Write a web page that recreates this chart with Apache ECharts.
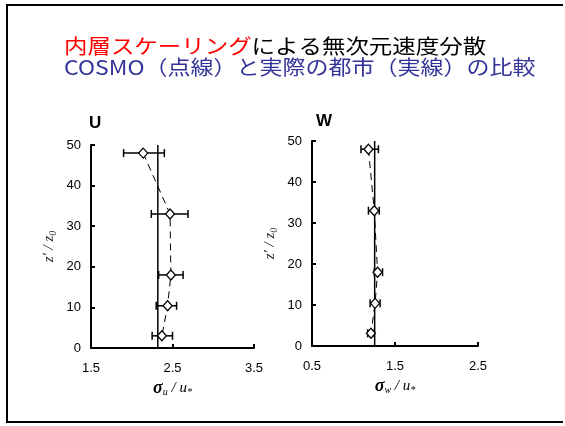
<!DOCTYPE html>
<html>
<head>
<meta charset="utf-8">
<script src="https://cdn.jsdelivr.net/npm/echarts@6/dist/echarts.min.js"></script>
<style>
  html, body { margin: 0; padding: 0; background: #fff; overflow: hidden; }
  #chart { width: 565px; height: 426px; }
</style>
</head>
<body>
<div id="chart"></div>
<script>
// Heights z'/z0 of the measurement levels
const heightsU = [48, 33, 18, 10.4, 3];
const heightsW = [48, 33, 18, 10.4, 3.1];

// COSMO: mean and error range of sigma_u / u*
const cosmoU = [2.14, 2.47, 2.48, 2.44, 2.37];
const cosmoULow = [1.90, 2.24, 2.33, 2.30, 2.25];
const cosmoUHigh = [2.40, 2.69, 2.63, 2.55, 2.50];

// COSMO: mean and error range of sigma_w / u*
const cosmoW = [1.18, 1.25, 1.29, 1.26, 1.21];
const cosmoWLow = [1.09, 1.18, 1.25, 1.20, 1.17];
const cosmoWHigh = [1.30, 1.31, 1.35, 1.32, 1.25];

// Real city (solid line) constant values
const cityU = 2.32;
const cityW = 1.255;
const cityZRange = [0, 50];

// Tick labels
const xTicksU = [1.5, 2.5, 3.5];
const xTicksW = [0.5, 1.5, 2.5];

const chart = echarts.init(document.getElementById('chart'));

const labelFont = 'Liberation Sans, Arial, sans-serif';
const serif = 'Liberation Serif, Times New Roman, serif';
const cjk = 'Noto Sans CJK JP';

function errorBars(xIndex, z, low, high) {
  return {
    type: 'custom',
    xAxisIndex: xIndex,
    yAxisIndex: xIndex,
    z: 2,
    data: z.map((v, i) => [low[i], high[i], v]),
    renderItem: function (params, api) {
      const p0 = api.coord([api.value(0), api.value(2)]);
      const p1 = api.coord([api.value(1), api.value(2)]);
      const h = 4;
      const style = { stroke: '#000', lineWidth: 1.5 };
      return {
        type: 'group',
        children: [
          { type: 'line', shape: { x1: p0[0], y1: p0[1], x2: p1[0], y2: p1[1] }, style: style },
          { type: 'line', shape: { x1: p0[0], y1: p0[1] - h, x2: p0[0], y2: p0[1] + h }, style: style },
          { type: 'line', shape: { x1: p1[0], y1: p1[1] - h, x2: p1[0], y2: p1[1] + h }, style: style }
        ]
      };
    }
  };
}

function cosmoLine(xIndex, vals, z) {
  return {
    type: 'line',
    xAxisIndex: xIndex,
    yAxisIndex: xIndex,
    z: 4,
    data: vals.map((v, i) => [v, z[i]]),
    symbol: 'diamond',
    symbolSize: [9, 10],
    lineStyle: { color: '#000', width: 1, type: [7, 5] },
    itemStyle: { color: '#fff', borderColor: '#000', borderWidth: 1.3 },
    animation: false
  };
}

function cityLine(xIndex, v) {
  return {
    type: 'line',
    xAxisIndex: xIndex,
    yAxisIndex: xIndex,
    z: 3,
    data: cityZRange.map(zz => [v, zz]),
    symbol: 'none',
    lineStyle: { color: '#000', width: 1.5 },
    animation: false
  };
}

function xAxisDef(idx, min, max, ticks, sub) {
  return {
    type: 'value',
    gridIndex: idx,
    min: min,
    max: max,
    axisLine: { lineStyle: { color: '#000', width: 2 } },
    axisTick: { inside: true, length: 4, lineStyle: { color: '#000', width: 2 }, customValues: ticks },
    axisLabel: {
      customValues: ticks,
      margin: 14,
      fontSize: 13,
      color: '#000',
      fontFamily: labelFont,
      formatter: v => v.toFixed(1)
    },
    splitLine: { show: false },
    name: '{s|σ}{sub|' + sub + '}{n| / u}{sub2|*}',
    nameLocation: 'middle',
    nameGap: 31,
    nameTextStyle: {
      rich: {
        s: { fontFamily: serif, fontStyle: 'italic', fontWeight: 'bold', fontSize: 18, color: '#000' },
        sub: { fontFamily: serif, fontStyle: 'italic', fontSize: 10, color: '#000', padding: [8, 0, 0, 0] },
        n: { fontFamily: serif, fontStyle: 'italic', fontSize: 15, color: '#000' },
        sub2: { fontFamily: serif, fontStyle: 'italic', fontSize: 10, color: '#000', padding: [8, 0, 0, 0] }
      }
    }
  };
}

function yAxisDef(idx) {
  return {
    type: 'value',
    gridIndex: idx,
    min: 0,
    max: 50,
    interval: 10,
    axisLine: { lineStyle: { color: '#000', width: 2 } },
    axisTick: { inside: true, length: 4, lineStyle: { color: '#000', width: 2 } },
    axisLabel: { margin: 10, fontSize: 13, color: '#000', fontFamily: labelFont },
    splitLine: { show: false },
    name: "{i|z' / z}{sub|0}",
    nameLocation: 'middle',
    nameRotate: 90,
    nameGap: 33,
    nameTextStyle: {
      rich: {
        i: { fontFamily: serif, fontStyle: 'italic', fontSize: 15, color: '#222' },
        sub: { fontFamily: serif, fontStyle: 'italic', fontSize: 10, color: '#222', padding: [8, 0, 0, 0] }
      }
    }
  };
}

const frameStyle = { stroke: '#000', lineWidth: 2 };

chart.setOption({
  animation: false,
  backgroundColor: '#fff',
  grid: [
    { left: 91, top: 145, width: 163, height: 203 },
    { left: 312, top: 141, width: 166, height: 205 }
  ],
  xAxis: [
    xAxisDef(0, 1.5, 3.5, xTicksU, 'u'),
    xAxisDef(1, 0.5, 2.5, xTicksW, 'w')
  ],
  yAxis: [yAxisDef(0), yAxisDef(1)],
  series: [
    errorBars(0, heightsU, cosmoULow, cosmoUHigh),
    cityLine(0, cityU),
    cosmoLine(0, cosmoU, heightsU),
    errorBars(1, heightsW, cosmoWLow, cosmoWHigh),
    cityLine(1, cityW),
    cosmoLine(1, cosmoW, heightsW)
  ],
  graphic: [
    // slide frame: top, left and bottom edges
    { type: 'line', shape: { x1: 6, y1: 5, x2: 563, y2: 5 }, style: frameStyle },
    { type: 'line', shape: { x1: 7, y1: 4, x2: 7, y2: 423 }, style: frameStyle },
    { type: 'line', shape: { x1: 6, y1: 422, x2: 563, y2: 422 }, style: frameStyle },
    {
      type: 'text',
      x: 64,
      y: 46,
      scaleX: 1.15,
      style: {
        text: '{r|内層スケーリング}{k|による無次元速度分散}',
        verticalAlign: 'middle',
        rich: {
          r: { fill: '#ff0000', fontSize: 20.4, fontFamily: cjk },
          k: { fill: '#000', fontSize: 20.4, fontFamily: cjk }
        }
      }
    },
    {
      type: 'text',
      x: 64,
      y: 67.5,
      scaleX: 1.15,
      style: {
        text: 'COSMO（点線）と実際の都市（実線）の比較',
        verticalAlign: 'middle',
        fill: '#333399',
        fontSize: 20,
        fontFamily: cjk
      }
    },
    {
      type: 'text',
      left: 89,
      top: 115,
      style: { text: 'U', fill: '#000', fontSize: 17, fontWeight: 'bold', fontFamily: labelFont }
    },
    {
      type: 'text',
      left: 316,
      top: 113,
      style: { text: 'W', fill: '#000', fontSize: 17, fontWeight: 'bold', fontFamily: labelFont }
    }
  ]
});
</script>
</body>
</html>
